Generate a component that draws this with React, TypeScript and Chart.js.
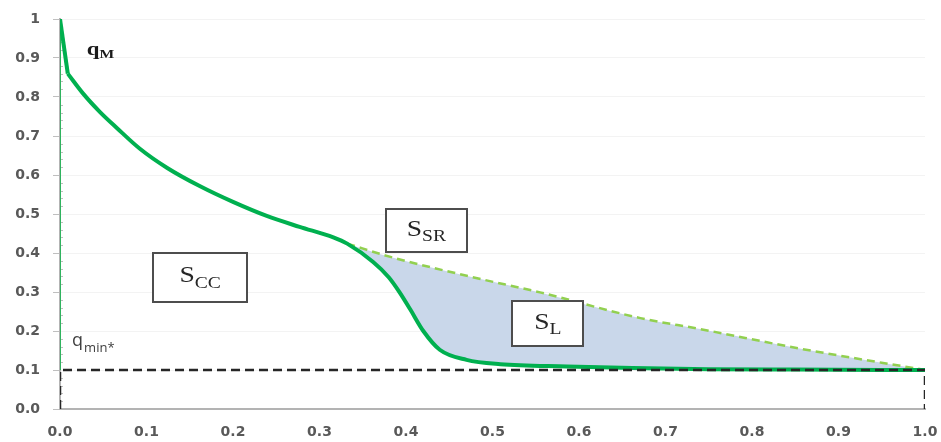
import React, { useEffect, useRef } from 'react';
import { Chart, registerables } from 'chart.js';

Chart.register(...registerables);

// ---- data ----
const headX = [0, 0.009];
const headY = [1.0, 0.86];

const curveX = [0.009, 0.027, 0.046, 0.066, 0.092, 0.124, 0.162, 0.2, 0.239, 0.277, 0.316, 0.332, 0.362, 0.38, 0.393, 0.405, 0.42, 0.439, 0.47, 0.509, 0.586, 0.662, 0.75, 0.85, 1.0];
const curveY = [0.86, 0.808, 0.762, 0.72, 0.668, 0.618, 0.571, 0.531, 0.495, 0.467, 0.44, 0.424, 0.377, 0.338, 0.298, 0.255, 0.2, 0.152, 0.126, 0.115, 0.109, 0.105, 0.102, 0.101, 0.1];

const envelopeX = [0.332, 0.382, 0.477, 0.555, 0.671, 0.74, 0.855, 1.0];
const envelopeY = [0.424, 0.39, 0.338, 0.299, 0.233, 0.205, 0.155, 0.1];

const axisLineX = [0, 0];
const axisLineY = [0.1, 1.0];

const qMinRectX = [0, 0, 1, 1];
const qMinRectY = [0, 0.1, 0.1, 0];

const xTickLabels = ['0.0', '0.1', '0.2', '0.3', '0.4', '0.5', '0.6', '0.7', '0.8', '0.9', '1.0'];
const yTickLabels = ['0.0', '0.1', '0.2', '0.3', '0.4', '0.5', '0.6', '0.7', '0.8', '0.9', '1'];

const boxMain = ['S', 'S', 'S'];
const boxSub = ['CC', 'SR', 'L'];
const boxAtX = [0.162, 0.4235, 0.564];
const boxAtY = [0.338, 0.457, 0.218];

const qMText = ['q', 'M'];
const qMinText = ['q', 'min*'];
const qMAt = [0.031, 0.913];
const qMinAt = [0.014, 0.166];

// ---- styles ----
const boxW = [94, 81, 71];
const boxH = [49, 43, 45];
const GREEN = '#00b04f';
const LIGHT_GREEN = '#92d050';
const FILL = '#c9d7ea';
const AXIS = '#bfbfbf';
const TEXT = '#404040';

const toPts = (xs: number[], ys: number[]) => xs.map((x, i) => ({ x, y: ys[i] }));

function drawStretched(ctx: CanvasRenderingContext2D, text: string, x: number, y: number, font: string, color: string, sx: number) {
  ctx.save();
  ctx.font = font;
  const w = ctx.measureText(text).width * sx;
  ctx.translate(x, y);
  ctx.scale(sx, 1);
  ctx.fillStyle = color;
  ctx.textAlign = 'left';
  ctx.textBaseline = 'alphabetic';
  ctx.fillText(text, 0, 0);
  ctx.restore();
  return w;
}

function measure(ctx: CanvasRenderingContext2D, text: string, font: string, sx: number) {
  ctx.save();
  ctx.font = font;
  const w = ctx.measureText(text).width * sx;
  ctx.restore();
  return w;
}

const annotationPlugin = {
  id: 'annotations',
  beforeDatasetsDraw(chart: any) {
    const { ctx } = chart;
    const ys = chart.scales.y;
    const xs = chart.scales.x;
    const x0 = xs.getPixelForValue(0);
    ctx.save();
    ctx.strokeStyle = AXIS;
    ctx.lineWidth = 1;
    for (let k = 0; k <= 50; k++) {
      if (k % 5 === 0) continue;
      const py = Math.round(ys.getPixelForValue(k / 50)) + 0.5;
      ctx.beginPath();
      ctx.moveTo(x0, py);
      ctx.lineTo(x0 + 3, py);
      ctx.stroke();
    }
    ctx.restore();
  },
  afterDatasetsDraw(chart: any) {
    const { ctx } = chart;
    const xs = chart.scales.x;
    const ys = chart.scales.y;
    const sx = 1.15;
    const mainFont = '24px "Liberation Serif"';
    const subFont = '17px "Liberation Serif"';
    for (let i = 0; i < boxMain.length; i++) {
      const cx = xs.getPixelForValue(boxAtX[i]);
      const cy = ys.getPixelForValue(boxAtY[i]);
      const w = boxW[i];
      const h = boxH[i];
      ctx.save();
      ctx.fillStyle = '#ffffff';
      ctx.fillRect(cx - w / 2, cy - h / 2, w, h);
      ctx.strokeStyle = '#4d4d4d';
      ctx.lineWidth = 2;
      ctx.strokeRect(Math.round(cx - w / 2), Math.round(cy - h / 2), w, h);
      ctx.restore();
      const wm = measure(ctx, boxMain[i], mainFont, sx);
      const ws = measure(ctx, boxSub[i], subFont, sx);
      const left = cx - (wm + ws) / 2;
      drawStretched(ctx, boxMain[i], left, cy + 5, mainFont, '#262626', sx);
      drawStretched(ctx, boxSub[i], left + wm, cy + 10.5, subFont, '#262626', sx);
    }
    // q_M
    {
      const px = xs.getPixelForValue(qMAt[0]);
      const py = ys.getPixelForValue(qMAt[1]);
      const f1 = 'bold 19px "Liberation Serif"';
      const f2 = 'bold 13px "Liberation Serif"';
      const w1 = drawStretched(ctx, qMText[0], px, py + 2, f1, '#1a1a1a', 1.2);
      drawStretched(ctx, qMText[1], px + w1, py + 5, f2, '#1a1a1a', 1.2);
    }
    // q_min*
    {
      const px = xs.getPixelForValue(qMinAt[0]);
      const py = ys.getPixelForValue(qMinAt[1]);
      const f1 = '18px "Open Sans"';
      const f2 = '13px "Open Sans"';
      const w1 = drawStretched(ctx, qMinText[0], px, py + 2, f1, TEXT, 1.0);
      drawStretched(ctx, qMinText[1], px + w1 + 1, py + 8, f2, TEXT, 1.0);
    }
  },
};

export default function App() {
  const ref = useRef<HTMLCanvasElement | null>(null);

  useEffect(() => {
    if (!ref.current) return;
    const tickFont = { family: '"DejaVu Sans"', size: 14, weight: 'bold' };
    const chart = new Chart(ref.current, {
      type: 'line',
      data: {
        datasets: [
          {
            label: 'q_min rectangle',
            data: toPts(qMinRectX, qMinRectY),
            borderColor: '#262626',
            borderWidth: 2.5,
            borderDash: [9, 5],
            pointRadius: 0,
            fill: false,
            tension: 0,
            order: 0,
          },
          {
            label: 'q curve',
            data: toPts(curveX, curveY),
            borderColor: GREEN,
            borderWidth: 4,
            pointRadius: 0,
            fill: false,
            cubicInterpolationMode: 'monotone',
            order: 1,
          },
          {
            label: 'q curve head',
            data: toPts(headX, headY),
            borderColor: GREEN,
            borderWidth: 4,
            pointRadius: 0,
            fill: false,
            tension: 0,
            borderJoinStyle: 'round',
            order: 1,
          },
          {
            label: 'q axis segment',
            data: toPts(axisLineX, axisLineY),
            borderColor: '#2fb35e',
            borderWidth: 2,
            pointRadius: 0,
            fill: false,
            order: 2,
          },
          {
            label: 'envelope',
            data: toPts(envelopeX, envelopeY),
            borderColor: LIGHT_GREEN,
            borderWidth: 2.5,
            borderDash: [8, 5],
            pointRadius: 0,
            backgroundColor: FILL,
            fill: 1,
            cubicInterpolationMode: 'monotone',
            order: 3,
          },
        ],
      },
      options: {
        animation: false,
        responsive: true,
        maintainAspectRatio: false,
        parsing: false as any,
        layout: { padding: { top: 19, right: 16, left: 0, bottom: 0 } },
        plugins: {
          legend: { display: false },
          tooltip: { enabled: false },
        },
        scales: {
          x: {
            type: 'linear',
            min: 0,
            max: 1,
            ticks: {
              stepSize: 0.1,
              padding: 15,
              color: '#595959',
              font: tickFont,
              callback: (v: any) => xTickLabels[Math.round(Number(v) * 10)],
              maxRotation: 0,
              autoSkip: false,
            },
            grid: { display: false, drawTicks: false },
            border: { display: true, color: '#b3b3b3', width: 2 },
            afterFit: (s: any) => { s.height = 33; s.paddingRight = 0; s.paddingLeft = 0; },
          },
          y: {
            type: 'linear',
            min: 0,
            max: 1,
            ticks: {
              stepSize: 0.1,
              padding: 13,
              color: '#595959',
              font: tickFont,
              callback: (v: any) => yTickLabels[Math.round(Number(v) * 10)],
              autoSkip: false,
            },
            grid: { color: '#f3f3f3', tickColor: AXIS, tickLength: 7, drawTicks: true },
            border: { display: true, color: '#b3b3b3', width: 2 },
            afterFit: (s: any) => { s.width = 60; s.paddingTop = 0; s.paddingBottom = 0; },
          },
        },
      },
      plugins: [annotationPlugin],
    } as any);
    return () => chart.destroy();
  }, []);

  return (
    <div style={{ position: 'absolute', left: 0, top: 0, width: 941, height: 442, background: '#ffffff' }}>
      <canvas ref={ref} />
    </div>
  );
}
